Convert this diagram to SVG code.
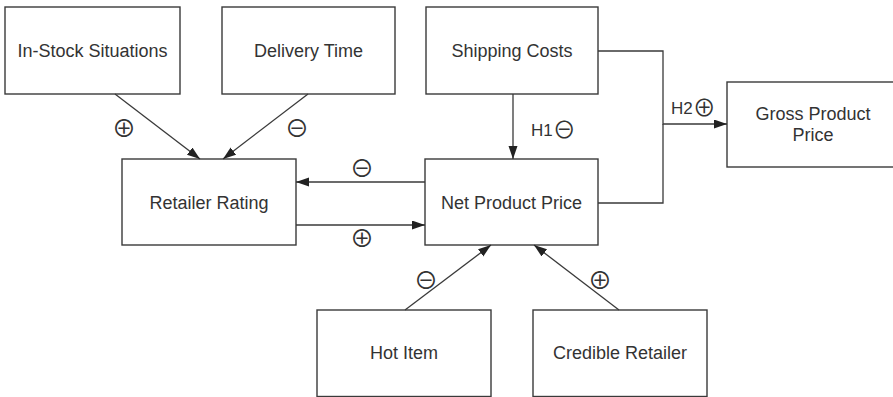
<svg xmlns="http://www.w3.org/2000/svg" width="893" height="397" viewBox="0 0 893 397">
  <style>
    .box { fill: #fff; stroke: #3a3a3a; stroke-width: 1.4; }
    .lbl { font-family: "Liberation Sans", Arial, sans-serif; font-size: 18px; fill: #333; text-anchor: middle; }
    .edge { fill: none; stroke: #3a3a3a; stroke-width: 1.3; }
    .sym { font-family: "Noto Sans CJK JP", "DejaVu Sans", sans-serif; font-weight: 400; font-size: 24px; fill: #333; text-anchor: middle; }
    .hyp { font-family: "Liberation Sans", Arial, sans-serif; font-size: 17px; fill: #333; }
    .hsym { font-family: "Noto Sans CJK JP", "DejaVu Sans", sans-serif; font-weight: 400; font-size: 23px; fill: #333; }
  </style>
  <defs>
    <marker id="arrow" markerUnits="userSpaceOnUse" markerWidth="14" markerHeight="10" refX="13" refY="4.5" orient="auto">
      <path d="M0,0 L13,4.5 L0,9 z" fill="#222"/>
    </marker>
  </defs>
  <rect width="893" height="397" fill="#fff"/>

  <g id="in-stock">
    <rect class="box" x="5" y="7" width="175" height="87"/>
    <text class="lbl" x="92.5" y="56.5">In-Stock Situations</text>
  </g>
  <g id="delivery-time">
    <rect class="box" x="222" y="7" width="173" height="87"/>
    <text class="lbl" x="308.5" y="56.5">Delivery Time</text>
  </g>
  <g id="shipping-costs">
    <rect class="box" x="426" y="7" width="172" height="87"/>
    <text class="lbl" x="512" y="56.5">Shipping Costs</text>
  </g>
  <g id="gross-product-price">
    <rect class="box" x="727" y="82" width="175" height="85"/>
    <text class="lbl" x="813" y="119.5">Gross Product</text>
    <text class="lbl" x="813" y="140.5">Price</text>
  </g>
  <g id="retailer-rating">
    <rect class="box" x="122" y="159" width="174" height="86"/>
    <text class="lbl" x="209" y="208.5">Retailer Rating</text>
  </g>
  <g id="net-product-price">
    <rect class="box" x="425" y="159" width="173" height="86"/>
    <text class="lbl" x="511.5" y="208.5">Net Product Price</text>
  </g>
  <g id="hot-item">
    <rect class="box" x="317" y="310" width="174" height="86.5"/>
    <text class="lbl" x="404" y="359">Hot Item</text>
  </g>
  <g id="credible-retailer">
    <rect class="box" x="533" y="310" width="174" height="86.5"/>
    <text class="lbl" x="620" y="359">Credible Retailer</text>
  </g>

  <g id="connectors">
    <line class="edge" x1="115" y1="94" x2="200" y2="159" marker-end="url(#arrow)"/>
    <line class="edge" x1="308" y1="94" x2="223" y2="159" marker-end="url(#arrow)"/>
    <line class="edge" x1="513" y1="94" x2="513" y2="159" marker-end="url(#arrow)"/>
    <polyline class="edge" points="598,51 663,51 663,124 727,124" marker-end="url(#arrow)"/>
    <polyline class="edge" points="598,203 663,203 663,124"/>
    <line class="edge" x1="425" y1="182" x2="296" y2="182" marker-end="url(#arrow)"/>
    <line class="edge" x1="296" y1="225" x2="425" y2="225" marker-end="url(#arrow)"/>
    <line class="edge" x1="405" y1="310" x2="491" y2="245" marker-end="url(#arrow)"/>
    <line class="edge" x1="619" y1="310" x2="534" y2="245" marker-end="url(#arrow)"/>

    <text class="sym" x="124" y="137">⊕</text>
    <text class="sym" x="297" y="137">⊖</text>
    <text class="sym" x="362" y="177">⊖</text>
    <text class="sym" x="362" y="247">⊕</text>
    <text class="sym" x="426" y="289">⊖</text>
    <text class="sym" x="600" y="289">⊕</text>
    <text class="hyp" x="531" y="135.5">H1<tspan class="hsym" dy="2">⊖</tspan></text>
    <text class="hyp" x="671" y="113.5">H2<tspan class="hsym" dy="2">⊕</tspan></text>
  </g>
</svg>
